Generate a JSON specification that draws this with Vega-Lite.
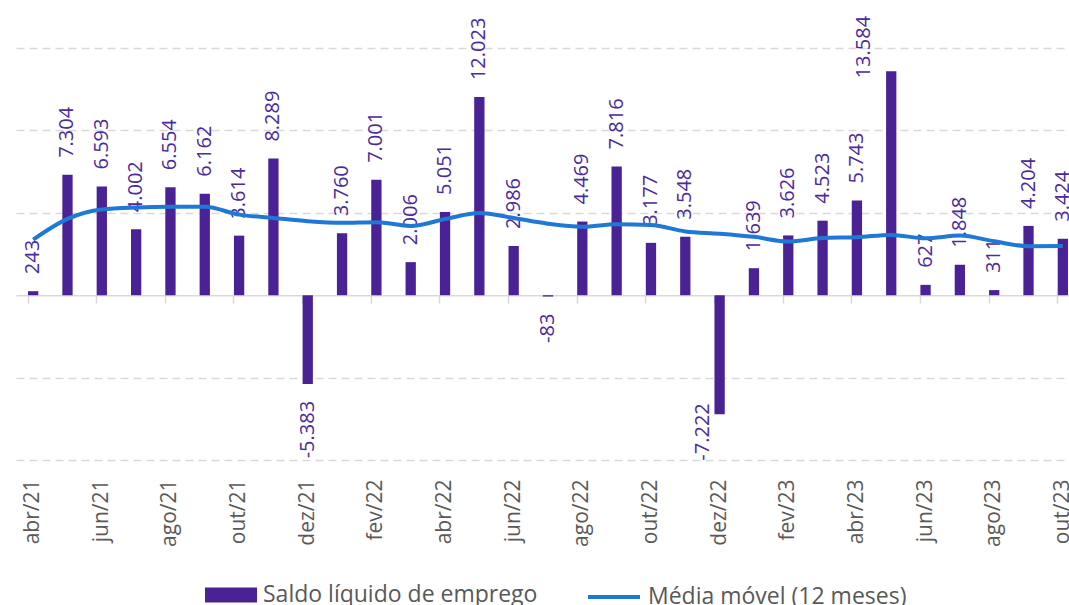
{
  "$schema": "https://vega.github.io/schema/vega-lite/v6.json",
  "width": 1053,
  "height": 412,
  "autosize": {"type": "none"},
  "padding": {"left": 16, "top": 48, "right": 0, "bottom": 145},
  "background": "white",
  "config": {
    "view": {"stroke": null},
    "font": "Open Sans",
    "locale": {"number": {"decimal": ",", "thousands": ".", "grouping": [3], "currency": ["R$", ""], "minus": "-"}}
  },
  "data": {"values": [
    {"mes": "abr/21", "saldo": 243, "media": 3370},
    {"mes": "mai/21", "saldo": 7304, "media": 4630},
    {"mes": "jun/21", "saldo": 6593, "media": 5200},
    {"mes": "jul/21", "saldo": 4002, "media": 5320},
    {"mes": "ago/21", "saldo": 6554, "media": 5360},
    {"mes": "set/21", "saldo": 6162, "media": 5360},
    {"mes": "out/21", "saldo": 3614, "media": 4890},
    {"mes": "nov/21", "saldo": 8289, "media": 4690},
    {"mes": "dez/21", "saldo": -5383, "media": 4490},
    {"mes": "jan/22", "saldo": 3760, "media": 4390},
    {"mes": "fev/22", "saldo": 7001, "media": 4430},
    {"mes": "mar/22", "saldo": 2006, "media": 4200},
    {"mes": "abr/22", "saldo": 5051, "media": 4620},
    {"mes": "mai/22", "saldo": 12023, "media": 4990},
    {"mes": "jun/22", "saldo": 2986, "media": 4680},
    {"mes": "jul/22", "saldo": -83, "media": 4340},
    {"mes": "ago/22", "saldo": 4469, "media": 4160},
    {"mes": "set/22", "saldo": 7816, "media": 4310},
    {"mes": "out/22", "saldo": 3177, "media": 4260},
    {"mes": "nov/22", "saldo": 3548, "media": 3870},
    {"mes": "dez/22", "saldo": -7222, "media": 3730},
    {"mes": "jan/23", "saldo": 1639, "media": 3540},
    {"mes": "fev/23", "saldo": 3626, "media": 3260},
    {"mes": "mar/23", "saldo": 4523, "media": 3470},
    {"mes": "abr/23", "saldo": 5743, "media": 3520},
    {"mes": "mai/23", "saldo": 13584, "media": 3660},
    {"mes": "jun/23", "saldo": 627, "media": 3450},
    {"mes": "jul/23", "saldo": 1848, "media": 3620},
    {"mes": "ago/23", "saldo": 311, "media": 3270},
    {"mes": "set/23", "saldo": 4204, "media": 2970},
    {"mes": "out/23", "saldo": 3424, "media": 2980}
  ]},
  "resolve": {"axis": {"x": "independent"}},
  "layer": [
    {
      "mark": {"type": "bar"},
      "encoding": {
        "x": {"field": "mes", "type": "ordinal", "sort": null,
          "scale": {"range": [0, 1064], "paddingInner": 0.7, "paddingOuter": 0.35},
          "axis": {"title": null, "orient": "bottom", "values": ["abr/21","jun/21","ago/21","out/21","dez/21","fev/22","abr/22","jun/22","ago/22","out/22","dez/22","fev/23","abr/23","jun/23","ago/23","out/23"],
            "domain": false, "ticks": false, "grid": false, "labelAngle": 270, "labelAlign": "right", "labelBaseline": "middle",
            "labelPadding": 19, "labelFontSize": 21, "labelColor": "#595959", "labelFont": "Open Sans"}},
        "y": {"field": "saldo", "type": "quantitative",
          "scale": {"domain": [-10000, 15000], "nice": false, "zero": false},
          "axis": {"title": null, "labels": false, "ticks": false, "domain": false, "values": [-10000, -5000, 5000, 10000, 15000],
            "grid": true, "gridDash": [8, 5], "gridColor": "#d9d9d9", "gridWidth": 1.5}},
        "fill": {"datum": "Saldo líquido de emprego", "scale": {"range": ["#4B2296"]},
          "legend": {"orient": "none", "legendX": 189, "legendY": 521, "title": null,
            "symbolType": "M-1,-0.29H1V0.29H-1Z", "symbolSize": 2704, "symbolStrokeWidth": 0,
            "labelFontSize": 23, "labelColor": "#595959", "labelOffset": 6, "labelFont": "Open Sans", "labelLimit": 0}}
      }
    },
    {
      "transform": [{"filter": "datum.saldo >= 0 && datum.saldo < 13000"}],
      "mark": {"type": "text", "angle": 270, "align": "left", "baseline": "middle", "dx": 17, "fontSize": 20, "color": "#4B2B9B", "font": "Open Sans"},
      "encoding": {
        "x": {"field": "mes", "type": "ordinal", "sort": null, "axis": null},
        "y": {"field": "saldo", "type": "quantitative"},
        "text": {"field": "saldo", "type": "quantitative", "format": ",d"}
      }
    },
    {
      "transform": [{"filter": "datum.saldo < 0 && datum.saldo > -7000"}],
      "mark": {"type": "text", "angle": 270, "align": "right", "baseline": "middle", "dx": -17, "fontSize": 20, "color": "#4B2B9B", "font": "Open Sans"},
      "encoding": {
        "x": {"field": "mes", "type": "ordinal", "sort": null, "axis": null},
        "y": {"field": "saldo", "type": "quantitative"},
        "text": {"field": "saldo", "type": "quantitative", "format": ",d"}
      }
    },
    {
      "transform": [{"filter": "datum.saldo >= 13000"}],
      "mark": {"type": "text", "angle": 270, "align": "left", "baseline": "middle", "dx": -7, "dy": -27, "fontSize": 20, "color": "#4B2B9B", "font": "Open Sans"},
      "encoding": {
        "x": {"field": "mes", "type": "ordinal", "sort": null, "axis": null},
        "y": {"field": "saldo", "type": "quantitative"},
        "text": {"field": "saldo", "type": "quantitative", "format": ",d"}
      }
    },
    {
      "transform": [{"filter": "datum.saldo <= -7000"}],
      "mark": {"type": "text", "angle": 270, "align": "right", "baseline": "middle", "dx": 11, "dy": -17, "fontSize": 20, "color": "#4B2B9B", "font": "Open Sans"},
      "encoding": {
        "x": {"field": "mes", "type": "ordinal", "sort": null, "axis": null},
        "y": {"field": "saldo", "type": "quantitative"},
        "text": {"field": "saldo", "type": "quantitative", "format": ",d"}
      }
    },
    {
      "mark": {"type": "line", "strokeWidth": 4, "interpolate": "monotone"},
      "encoding": {
        "x": {"field": "mes", "type": "ordinal", "sort": null,
          "axis": {"title": null, "orient": "bottom", "labels": false, "domain": true, "domainColor": "#d9d9d9", "domainWidth": 1.5,
            "ticks": true, "tickColor": "#d9d9d9", "tickWidth": 1.5, "tickSize": 8, "bandPosition": 0, "grid": false, "offset": -164.8,
            "values": ["abr/21","jun/21","ago/21","out/21","dez/21","fev/22","abr/22","jun/22","ago/22","out/22","dez/22","fev/23","abr/23","jun/23","ago/23","out/23"]}},
        "y": {"field": "media", "type": "quantitative"},
        "stroke": {"datum": "Média móvel (12 meses)", "scale": {"range": ["#1F78D4"]},
          "legend": {"orient": "none", "legendX": 570, "legendY": 521, "title": null,
            "symbolType": "stroke", "symbolSize": 2704, "symbolStrokeWidth": 4,
            "labelFontSize": 23, "labelColor": "#595959", "labelOffset": 6, "labelFont": "Open Sans", "labelLimit": 0}}
      }
    }
  ]
}
